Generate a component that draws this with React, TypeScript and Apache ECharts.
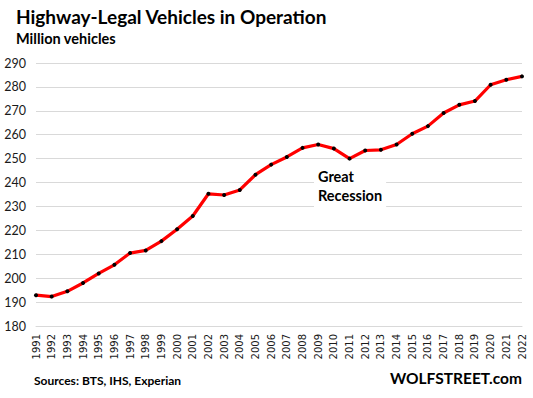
import React, { useEffect, useRef } from "react";
import * as echarts from "echarts";

const years = [
  "1991","1992","1993","1994","1995","1996","1997","1998","1999","2000","2001",
  "2002","2003","2004","2005","2006","2007","2008","2009","2010","2011","2012",
  "2013","2014","2015","2016","2017","2018","2019","2020","2021","2022",
];
const vehicles = [
  192.9, 192.3, 194.5, 198.0, 202.0, 205.6, 210.5, 211.6, 215.5, 220.5, 226.0,
  235.3, 234.8, 236.9, 243.3, 247.5, 250.7, 254.5, 255.9, 254.2, 250.0, 253.4,
  253.7, 255.9, 260.4, 263.6, 269.1, 272.5, 274.1, 280.9, 283.0, 284.4,
];
const yMin = 180;
const yMax = 290;
const yStep = 10;

const FONT = "Lato, 'Open Sans', sans-serif";
const XFONT = "'DejaVu Sans', Verdana, sans-serif";

export default function App() {
  const ref = useRef<HTMLDivElement>(null);
  useEffect(() => {
    if (!ref.current) return;
    const chart = echarts.init(ref.current, undefined, { renderer: "svg" });
    chart.setOption({
      animation: false,
      backgroundColor: "#ffffff",
      textStyle: { fontFamily: FONT },
      grid: { left: 36, right: 11, top: 63, bottom: 72 },
      xAxis: {
        type: "category",
        data: years,
        boundaryGap: false,
        axisLine: { show: true, lineStyle: { color: "#d9d9d9", width: 1 } },
        axisTick: { show: false },
        axisLabel: {
          rotate: 90,
          interval: 0,
          margin: 8,
          color: "#1a1a1a",
          fontSize: 10,
          fontFamily: XFONT,
        },
      },
      yAxis: {
        type: "value",
        min: yMin,
        max: yMax,
        interval: yStep,
        axisLine: { show: false },
        axisTick: { show: false },
        splitLine: { lineStyle: { color: "#d9d9d9", width: 1 } },
        axisLabel: { margin: 10, color: "#1a1a1a", fontSize: 12.5, fontFamily: FONT },
      },
      series: [
        {
          type: "line",
          data: vehicles,
          lineStyle: { color: "#ff0000", width: 3.2 },
          symbol: "circle",
          symbolSize: 4,
          itemStyle: { color: "#000000", borderWidth: 0 },
          z: 3,
        },
      ],
      graphic: [
        {
          type: "text",
          left: 16,
          top: 7,
          style: {
            text: "Highway-Legal Vehicles in Operation",
            font: `bold 19px ${FONT}`,
            fill: "#000",
          },
        },
        {
          type: "text",
          left: 16,
          top: 31,
          style: {
            text: "Million vehicles",
            font: `bold 14.5px ${FONT}`,
            fill: "#000",
          },
        },
        {
          type: "text",
          left: 314,
          top: 165,
          z: 10,
          style: {
            text: "Great\nRecession",
            font: `bold 14.5px ${FONT}`,
            lineHeight: 19,
            fill: "#000",
            backgroundColor: "#ffffff",
            padding: [2, 4, 2, 4],
          },
        },
        {
          type: "text",
          left: 34,
          top: 374,
          style: {
            text: "Sources: BTS, IHS, Experian",
            font: `bold 12px ${FONT}`,
            fill: "#000",
          },
        },
        {
          type: "text",
          right: 11,
          top: 370,
          style: {
            text: "WOLFSTREET.com",
            font: `bold 15.5px ${FONT}`,
            fill: "#000",
          },
        },
      ],
    });
    return () => chart.dispose();
  }, []);
  return (
    <div
      ref={ref}
      style={{ position: "absolute", left: 0, top: 0, width: 533, height: 398 }}
    />
  );
}
